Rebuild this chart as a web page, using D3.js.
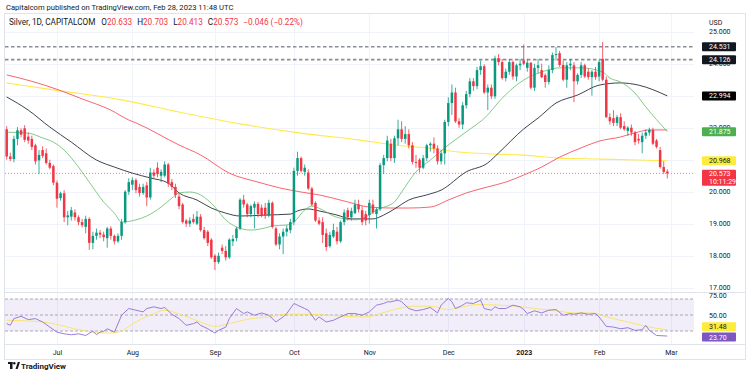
<!DOCTYPE html>
<html>
<head>
<meta charset="utf-8">
<script src="https://cdn.jsdelivr.net/npm/d3@7"></script>
<style>
  body { margin: 0; background: #fff; }
  svg text { font-family: Roboto, "Liberation Sans", sans-serif; }
</style>
</head>
<body>
<svg id="chart" width="750" height="376"></svg>
<script>
// daily candles: date, open, high, low, close
const candles = [
  ["2022-06-13",21.95,22.05,21.00,21.10],["2022-06-14",21.10,21.22,20.95,21.02],["2022-06-15",21.02,21.75,20.92,21.65],
  ["2022-06-16",21.65,22.02,21.45,21.92],["2022-06-17",21.92,21.98,21.70,21.78],["2022-06-20",21.98,22.08,21.55,21.62],
  ["2022-06-21",21.72,21.85,21.50,21.60],["2022-06-22",21.65,21.75,21.30,21.40],["2022-06-23",21.45,21.50,20.85,20.95],
  ["2022-06-24",20.98,21.30,20.55,21.15],["2022-06-27",21.30,21.42,21.05,21.12],["2022-06-28",21.20,21.35,20.85,20.90],
  ["2022-06-29",20.90,21.00,20.70,20.75],["2022-06-30",20.80,20.85,20.20,20.28],["2022-07-01",20.28,20.35,19.50,19.78],
  ["2022-07-04",19.80,20.00,19.72,19.95],["2022-07-05",19.95,20.05,19.05,19.20],["2022-07-06",19.20,19.40,18.95,19.26],
  ["2022-07-07",19.22,19.52,19.10,19.42],["2022-07-08",19.35,19.45,19.10,19.20],["2022-07-11",19.20,19.26,18.95,19.05],
  ["2022-07-12",19.05,19.15,18.88,18.95],["2022-07-13",18.90,19.25,18.70,19.15],["2022-07-14",19.15,19.20,18.18,18.40],
  ["2022-07-15",18.40,18.75,18.20,18.62],["2022-07-18",18.62,18.85,18.50,18.72],["2022-07-19",18.72,18.80,18.55,18.66],
  ["2022-07-20",18.66,18.75,18.45,18.58],["2022-07-21",18.55,18.90,18.25,18.85],["2022-07-22",18.85,18.92,18.50,18.62],
  ["2022-07-25",18.62,18.66,18.35,18.45],["2022-07-26",18.45,18.70,18.40,18.62],["2022-07-27",18.62,19.15,18.50,19.05],
  ["2022-07-28",19.05,20.05,19.00,20.00],["2022-07-29",20.00,20.42,19.90,20.30],["2022-08-01",20.22,20.45,20.05,20.36],
  ["2022-08-02",20.36,20.42,19.95,20.05],["2022-08-03",20.15,20.25,19.85,19.96],["2022-08-04",19.96,20.25,19.90,20.15],
  ["2022-08-05",20.20,20.30,19.55,19.82],["2022-08-08",19.82,20.75,19.75,20.60],["2022-08-09",20.60,20.70,20.40,20.50],
  ["2022-08-10",20.75,20.92,20.45,20.55],["2022-08-11",20.50,20.70,20.30,20.62],["2022-08-12",20.50,20.95,20.45,20.85],
  ["2022-08-15",20.85,20.90,20.15,20.25],["2022-08-16",20.30,20.40,20.05,20.15],["2022-08-17",20.15,20.25,19.80,19.90],
  ["2022-08-18",19.85,19.95,19.45,19.55],["2022-08-19",19.60,19.65,19.00,19.05],["2022-08-22",19.10,19.15,18.90,19.00],
  ["2022-08-23",19.00,19.20,18.90,19.10],["2022-08-24",19.15,19.30,19.00,19.05],["2022-08-25",19.00,19.40,18.95,19.22],
  ["2022-08-26",19.22,19.30,18.75,18.80],["2022-08-29",18.80,18.90,18.50,18.55],["2022-08-30",18.75,18.80,18.30,18.40],
  ["2022-08-31",18.50,18.55,17.90,17.95],["2022-09-01",18.00,18.05,17.55,17.80],["2022-09-02",17.80,18.10,17.75,18.00],
  ["2022-09-05",18.25,18.35,18.05,18.15],["2022-09-06",18.15,18.30,17.85,17.95],["2022-09-07",17.95,18.55,17.90,18.50],
  ["2022-09-08",18.45,18.65,18.30,18.52],["2022-09-09",18.55,18.90,18.45,18.85],["2022-09-12",18.85,19.80,18.80,19.75],
  ["2022-09-13",19.75,19.90,19.50,19.60],["2022-09-14",19.60,19.65,19.20,19.30],["2022-09-15",19.30,19.60,19.20,19.55],
  ["2022-09-16",19.50,19.70,18.85,19.62],["2022-09-19",19.62,19.68,19.20,19.30],["2022-09-20",19.50,19.60,19.20,19.25],
  ["2022-09-21",19.50,19.65,19.15,19.25],["2022-09-22",19.25,19.75,19.20,19.65],["2022-09-23",19.65,19.70,18.85,18.90],
  ["2022-09-26",18.85,18.90,18.30,18.35],["2022-09-27",18.35,18.70,18.20,18.60],["2022-09-28",18.60,18.85,18.05,18.75],
  ["2022-09-29",18.75,18.95,18.60,18.85],["2022-09-30",18.80,19.15,18.70,19.05],["2022-10-03",19.05,20.75,18.95,20.65],
  ["2022-10-04",20.65,21.25,20.50,21.05],["2022-10-05",21.05,21.10,20.60,20.65],["2022-10-06",20.62,20.85,20.50,20.75],
  ["2022-10-07",20.60,20.70,20.05,20.10],["2022-10-10",20.10,20.15,19.55,19.60],["2022-10-11",19.65,19.70,19.05,19.10],
  ["2022-10-12",19.10,19.20,18.95,19.00],["2022-10-13",19.05,19.20,18.40,18.65],["2022-10-14",18.70,18.85,18.15,18.27],
  ["2022-10-17",18.30,18.75,18.25,18.65],["2022-10-18",18.60,19.00,18.55,18.80],["2022-10-19",18.75,18.90,18.35,18.45],
  ["2022-10-20",18.45,19.10,18.40,19.05],["2022-10-21",19.05,19.45,18.95,19.35],["2022-10-24",19.42,19.50,19.10,19.20],
  ["2022-10-25",19.20,19.50,19.10,19.40],["2022-10-26",19.33,19.75,19.30,19.60],["2022-10-27",19.60,19.75,19.35,19.45],
  ["2022-10-28",19.42,19.55,18.95,19.05],["2022-10-31",19.30,19.40,18.95,19.10],["2022-11-01",19.27,19.75,19.00,19.65],
  ["2022-11-02",19.60,19.75,19.30,19.35],["2022-11-03",19.30,19.50,18.85,19.45],["2022-11-04",19.45,20.90,19.40,20.83],
  ["2022-11-07",20.83,21.15,20.55,21.05],["2022-11-08",21.05,21.75,20.95,21.60],["2022-11-09",21.50,21.65,20.95,21.05],
  ["2022-11-10",21.05,21.75,20.90,21.67],["2022-11-11",21.67,22.25,21.45,21.95],["2022-11-14",21.95,22.20,21.55,21.65],
  ["2022-11-15",21.65,22.05,21.50,21.80],["2022-11-16",21.80,21.95,21.35,21.45],["2022-11-17",21.45,21.55,20.85,20.93],
  ["2022-11-18",20.93,21.15,20.75,20.90],["2022-11-21",21.00,21.05,20.60,20.75],["2022-11-22",20.75,21.15,20.70,21.05],
  ["2022-11-23",21.05,21.50,20.95,21.45],["2022-11-24",21.45,21.55,21.25,21.50],["2022-11-25",21.50,21.70,21.20,21.35],
  ["2022-11-28",21.35,21.45,20.85,20.95],["2022-11-29",20.95,21.30,20.85,21.20],["2022-11-30",21.20,22.25,20.85,22.18],
  ["2022-12-01",22.18,22.95,22.05,22.77],["2022-12-02",22.77,23.35,22.40,23.10],["2022-12-05",23.10,23.25,22.15,22.20],
  ["2022-12-06",22.20,22.30,22.00,22.10],["2022-12-07",22.10,22.80,21.95,22.70],["2022-12-08",22.70,23.15,22.60,23.05],
  ["2022-12-09",23.05,23.55,22.95,23.45],["2022-12-12",23.45,23.55,23.15,23.30],["2022-12-13",23.30,23.90,23.20,23.80],
  ["2022-12-14",23.80,24.10,23.65,23.92],["2022-12-15",23.92,23.98,23.05,23.10],["2022-12-16",23.10,23.35,22.55,23.25],
  ["2022-12-19",23.25,23.35,22.90,22.98],["2022-12-20",22.98,24.25,22.90,24.17],["2022-12-21",24.17,24.30,23.95,24.05],
  ["2022-12-22",24.05,24.15,23.50,23.55],["2022-12-23",23.55,23.85,23.45,23.75],["2022-12-27",23.75,24.15,23.65,24.05],
  ["2022-12-28",24.05,24.10,23.50,23.60],["2022-12-29",23.60,24.00,23.45,23.95],["2022-12-30",23.95,24.15,23.80,24.00],
  ["2023-01-03",24.10,24.60,23.95,24.00],["2023-01-04",23.87,24.15,23.75,24.03],["2023-01-05",24.03,24.05,23.20,23.25],
  ["2023-01-06",23.25,24.00,23.15,23.87],["2023-01-09",23.87,24.15,23.70,23.95],["2023-01-10",23.80,24.00,23.55,23.58],
  ["2023-01-11",23.64,23.70,23.25,23.43],["2023-01-12",23.43,23.95,23.35,23.80],["2023-01-13",23.80,24.35,23.70,24.27],
  ["2023-01-16",24.27,24.52,24.10,24.30],["2023-01-17",24.33,24.40,23.90,23.96],["2023-01-18",23.96,24.10,23.45,23.50],
  ["2023-01-19",23.50,24.05,23.25,23.95],["2023-01-20",23.95,24.15,23.80,24.00],["2023-01-23",23.95,24.05,22.80,23.45],
  ["2023-01-24",23.45,23.70,23.35,23.65],["2023-01-25",23.65,24.05,23.55,23.95],["2023-01-26",23.95,24.00,23.55,23.60],
  ["2023-01-27",23.75,23.85,23.50,23.58],["2023-01-30",23.58,23.80,23.00,23.75],["2023-01-31",23.75,23.90,23.50,23.58],
  ["2023-02-01",23.60,24.12,23.45,24.05],["2023-02-02",24.15,24.68,23.45,23.50],["2023-02-03",23.50,23.60,22.30,22.33],
  ["2023-02-06",22.33,22.45,22.10,22.20],["2023-02-07",22.30,22.55,22.05,22.15],["2023-02-08",22.15,22.40,22.05,22.33],
  ["2023-02-09",22.33,22.45,21.95,22.00],["2023-02-10",22.05,22.20,21.90,21.95],["2023-02-13",21.90,22.05,21.75,22.00],
  ["2023-02-14",22.00,22.10,21.75,21.85],["2023-02-15",21.85,21.90,21.45,21.55],["2023-02-16",21.65,21.80,21.50,21.60],
  ["2023-02-17",21.55,21.85,21.20,21.75],["2023-02-20",21.75,21.95,21.65,21.85],["2023-02-21",21.85,22.00,21.75,21.93],
  ["2023-02-22",21.93,22.00,21.45,21.50],["2023-02-23",21.60,21.65,21.35,21.40],["2023-02-24",21.30,21.40,20.72,20.77],
  ["2023-02-27",20.77,20.95,20.55,20.619],["2023-02-28",20.633,20.703,20.413,20.573]
];

// moving averages: [bar index, price]
const ma20 = [[0,21.86],[6,21.83],[10,21.68],[13,21.55],[16,21.30],[20,20.77],[23,20.30],[27,19.68],[30,19.33],
  [32,19.05],[36,19.12],[39,19.24],[43,19.52],[46,19.80],[48,19.96],[51,19.99],[54,19.90],[58,19.52],[61,19.12],
  [64,18.90],[68,18.80],[72,18.87],[74,18.93],[78,18.96],[80,19.05],[83,19.43],[85,19.55],[88,19.43],[91,19.24],
  [94,19.15],[97,19.12],[100,19.21],[103,19.43],[108,19.68],[110,19.99],[114,20.62],[118,20.99],[123,21.46],
  [128,21.87],[134,22.40],[137,22.80],[141,23.24],[144,23.49],[149,23.74],[154,23.87],[160,23.87],[166,23.74],
  [168,23.55],[171,23.43],[175,23.08],[178,22.65],[184,21.875]];
const ma50 = [[0,22.96],[6,22.55],[12,22.02],[18,21.55],[25,20.99],[30,20.77],[35,20.58],[40,20.43],[45,20.27],
  [48,19.96],[53,19.74],[57,19.49],[61,19.33],[65,19.24],[72,19.27],[79,19.30],[81,19.40],[84,19.46],[87,19.40],
  [92,19.27],[96,19.15],[102,19.15],[105,19.27],[108,19.46],[112,19.74],[117,19.90],[121,20.05],[128,20.62],
  [134,20.90],[137,21.21],[144,21.96],[148,22.30],[153,22.77],[159,23.02],[165,23.33],[171,23.40],[176,23.33],[184,22.994]];
const ma100 = [[0,23.65],[7,23.45],[14,23.20],[21,22.90],[29,22.55],[34,22.24],[36,22.15],[48,21.46],[54,21.15],
  [62,20.58],[70,20.30],[76,20.12],[82,19.99],[87,19.90],[95,19.68],[101,19.52],[107,19.49],[112,19.49],[118,19.52],
  [123,19.74],[128,19.96],[134,20.15],[139,20.30],[144,20.52],[149,20.77],[154,21.08],[160,21.37],[165,21.58],
  [171,21.71],[176,21.87],[179,21.93],[184,21.93]];
const ma200 = [[0,23.40],[15,23.15],[32,22.87],[48,22.49],[65,22.12],[82,21.83],[98,21.62],[108,21.46],[117,21.37],
  [126,21.24],[135,21.18],[143,21.15],[154,21.05],[165,21.02],[176,20.99],[184,20.968]];

const rsi = [[0,39.2],[1,37.1],[2,45.5],[4,48.4],[6,44.2],[8,45.5],[10,41.3],[12,34.9],[14,28.6],[16,26.5],
  [18,25.3],[20,26.5],[22,24.4],[24,29.9],[25,25.3],[26,28.6],[27,29.5],[28,32.8],[30,28.6],[32,49.7],[34,58.1],
  [36,56.0],[38,53.9],[39,58.1],[41,60.2],[43,58.1],[44,59.4],[46,50.9],[48,45.5],[50,37.1],[52,39.2],[53,41.3],
  [54,37.1],[56,32.8],[58,27.4],[59,30.8],[61,34.9],[62,45.5],[64,58.1],[66,51.8],[67,53.9],[69,49.7],[71,52.6],
  [73,49.7],[75,41.3],[77,47.6],[78,51.8],[80,64.4],[81,62.3],[83,58.1],[84,56.0],[86,43.4],[87,47.6],[89,41.3],
  [91,43.4],[93,47.6],[95,51.8],[97,51.8],[99,49.7],[101,53.9],[103,62.3],[105,64.4],[106,66.5],[107,66.5],
  [109,68.6],[110,66.5],[112,58.1],[114,55.2],[116,56.8],[118,59.4],[120,52.6],[121,62.3],[123,70.7],[124,66.5],
  [125,58.1],[127,62.3],[128,65.3],[130,64.4],[132,68.6],[133,58.1],[135,56.0],[136,60.2],[137,58.1],[139,58.1],
  [141,62.3],[143,60.2],[144,56.8],[145,51.8],[147,55.2],[148,53.9],[149,52.6],[151,56.0],[153,56.8],[155,49.7],
  [157,51.8],[158,50.9],[160,52.6],[162,50.9],[164,51.8],[165,47.6],[167,35.8],[169,34.9],[171,32.8],[173,34.1],
  [175,30.8],[177,31.6],[178,37.1],[179,30.8],[181,24.4],[184,23.70]];
const rsiMa = [[0,43.4],[6,42.5],[12,40.0],[17,34.9],[22,29.9],[28,27.4],[31,28.6],[36,41.3],[41,51.8],[44,56.0],
  [49,49.7],[54,41.3],[58,35.8],[62,39.2],[68,45.5],[73,47.6],[78,51.0],[84,51.0],[89,49.7],[94,48.4],[100,47.6],
  [104,51.8],[108,56.8],[113,61.0],[118,61.0],[123,56.8],[127,60.2],[131,63.2],[137,62.3],[142,61.0],[147,58.1],
  [153,55.2],[158,52.6],[163,52.6],[167,47.6],[173,41.3],[178,35.8],[184,31.48]];

const priceTicks = [17, 18, 19, 20, 21, 22, 23, 24, 25];
const rsiTicks = [75, 50];
const rsiBands = [70, 50, 30];
const monthKeys = ["2022-07","2022-08","2022-09","2022-10","2022-11","2022-12","2023-01","2023-02","2023-03"];
const monthLabels = ["Jul","Aug","Sep","Oct","Nov","Dec","2023","Feb","Mar"];
const levels = [24.531, 24.126];
const lastClose = 20.573;

const UP = "#089981", DOWN = "#f23645";
const svg = d3.select("#chart");
const paneL = 5, paneR = 694, mainT = 14, mainB = 292, rsiB = 344;

const x = d3.scaleLinear().domain([0, candles.length]).range([6.7, 670.9]);
const y = d3.scaleLinear().domain([17, 25]).range([287.7, 31.7]);
const ry = d3.scaleLinear().domain([30, 70]).range([331, 299]);

// month tick positions = first bar of each month
const monthIdx = monthKeys.map(k => {
  const i = candles.findIndex(c => c[0].startsWith(k));
  return i < 0 ? candles.length : i;
});

svg.append("rect").attr("width", 750).attr("height", 376).attr("fill", "#fff");

// clip paths
const defs = svg.append("defs");
defs.append("clipPath").attr("id", "clipMain").append("rect")
  .attr("x", paneL).attr("y", mainT).attr("width", paneR - paneL).attr("height", mainB - mainT);
defs.append("clipPath").attr("id", "clipRsi").append("rect")
  .attr("x", paneL).attr("y", mainB).attr("width", paneR - paneL).attr("height", rsiB - mainB);

// grid
const grid = svg.append("g");
grid.selectAll("line.v").data(monthIdx).join("line")
  .attr("x1", d => Math.round(x(d)) + 0.5).attr("x2", d => Math.round(x(d)) + 0.5)
  .attr("y1", mainT).attr("y2", rsiB).attr("stroke", "#f0f3fa");
grid.selectAll("line.h").data(priceTicks).join("line")
  .attr("x1", paneL).attr("x2", paneR)
  .attr("y1", d => Math.round(y(d)) + 0.5).attr("y2", d => Math.round(y(d)) + 0.5).attr("stroke", "#f0f3fa");

// frame and pane separators
svg.append("rect").attr("x", 4.5).attr("y", 13.5).attr("width", 741).attr("height", 346)
  .attr("fill", "none").attr("stroke", "#e0e3eb");
svg.append("line").attr("x1", 5).attr("x2", 745).attr("y1", mainB + 0.5).attr("y2", mainB + 0.5).attr("stroke", "#e0e3eb");
svg.append("line").attr("x1", 5).attr("x2", 745).attr("y1", rsiB + 0.5).attr("y2", rsiB + 0.5).attr("stroke", "#e0e3eb");

// main pane content
const main = svg.append("g").attr("clip-path", "url(#clipMain)");

const maLine = d3.line().x(d => x(d[0])).y(d => y(d[1])).curve(d3.curveMonotoneX);
[[ma200, "#ffe94d", 1.1], [ma100, "#f7525f", 0.9], [ma50, "#2a2e39", 0.9], [ma20, "#66bb6a", 0.8]].forEach(([data, col, w]) => {
  main.append("path").datum(data).attr("d", maLine).attr("fill", "none").attr("stroke", col).attr("stroke-width", w);
});

// horizontal levels
main.selectAll("line.lvl").data(levels).join("line")
  .attr("x1", paneL).attr("x2", paneR + 8).attr("y1", d => y(d)).attr("y2", d => y(d))
  .attr("stroke", "#8a8d96").attr("stroke-width", 1.6).attr("stroke-dasharray", "3.5,2.5");

// last price line
main.append("line").attr("x1", paneL).attr("x2", paneR)
  .attr("y1", y(lastClose)).attr("y2", y(lastClose))
  .attr("stroke", DOWN).attr("stroke-width", 0.8).attr("stroke-dasharray", "1,2").attr("opacity", 0.8);

// candles
const cg = main.selectAll("g.candle").data(candles).join("g");
cg.append("line")
  .attr("x1", (d, i) => x(i)).attr("x2", (d, i) => x(i))
  .attr("y1", d => y(d[2])).attr("y2", d => y(d[3]))
  .attr("stroke", d => d[4] >= d[1] ? UP : DOWN).attr("stroke-width", 0.8);
cg.append("rect")
  .attr("x", (d, i) => x(i) - 1.25).attr("width", 2.5)
  .attr("y", d => y(Math.max(d[1], d[4])))
  .attr("height", d => Math.max(0.7, Math.abs(y(d[1]) - y(d[4]))))
  .attr("fill", d => d[4] >= d[1] ? UP : DOWN);

// RSI pane
const rp = svg.append("g").attr("clip-path", "url(#clipRsi)");
rp.append("rect").attr("x", paneL).attr("width", paneR - paneL)
  .attr("y", ry(70)).attr("height", ry(30) - ry(70)).attr("fill", "rgba(126,87,194,0.1)");
rp.selectAll("line.band").data(rsiBands).join("line")
  .attr("x1", paneL).attr("x2", paneR).attr("y1", d => ry(d)).attr("y2", d => ry(d))
  .attr("stroke", "#9598a1").attr("stroke-width", 0.8).attr("stroke-dasharray", "3,2");
rp.append("path").datum(rsiMa).attr("d", d3.line().x(d => x(d[0])).y(d => ry(d[1])).curve(d3.curveMonotoneX))
  .attr("fill", "none").attr("stroke", "#fbe35a").attr("stroke-width", 0.9);
rp.append("path").datum(rsi).attr("d", d3.line().x(d => x(d[0])).y(d => ry(d[1])))
  .attr("fill", "none").attr("stroke", "#8f6fd1").attr("stroke-width", 0.9);

// price axis
const fs = 7;
const pAxis = svg.append("g").attr("transform", "translate(705,0)")
  .call(d3.axisRight(y).tickValues(priceTicks).tickFormat(d3.format(".3f")).tickSize(0));
pAxis.select(".domain").remove();
pAxis.selectAll("text").attr("x", 4).attr("fill", "#131722").style("font-size", fs + "px");

const rAxis = svg.append("g").attr("transform", "translate(705,0)")
  .call(d3.axisRight(ry).tickValues(rsiTicks).tickFormat(d3.format(".2f")).tickSize(0));
rAxis.select(".domain").remove();
rAxis.selectAll("text").attr("x", 4).attr("fill", "#131722").style("font-size", fs + "px");

svg.append("text").attr("x", 709).attr("y", 25).attr("fill", "#131722").style("font-size", fs + "px").text("USD");

// time axis
const tAxis = svg.append("g").attr("transform", `translate(0,${rsiB + 3})`)
  .call(d3.axisBottom(x).tickValues(monthIdx).tickFormat((d, i) => monthLabels[i]).tickSize(0));
tAxis.select(".domain").remove();
tAxis.selectAll("text").attr("fill", "#131722").style("font-size", fs + "px")
  .style("font-weight", (d, i) => monthLabels[i] === "2023" ? "bold" : "normal");

// axis value tags
const fmt3 = d3.format(".3f"), fmt2 = d3.format(".2f");
const tags = [
  { v: levels[0], s: y, bg: "#131722", fg: "#fff", t: fmt3(levels[0]) },
  { v: levels[1], s: y, bg: "#131722", fg: "#fff", t: fmt3(levels[1]) },
  { v: ma50[ma50.length - 1][1], s: y, bg: "#000", fg: "#fff", t: fmt3(ma50[ma50.length - 1][1]) },
  { v: ma20[ma20.length - 1][1], s: y, bg: "#4caf50", fg: "#fff", t: fmt3(ma20[ma20.length - 1][1]) },
  { v: ma200[ma200.length - 1][1], s: y, bg: "#ffeb3b", fg: "#131722", t: fmt3(ma200[ma200.length - 1][1]) },
  { v: rsiMa[rsiMa.length - 1][1], s: ry, bg: "#ffeb3b", fg: "#131722", t: fmt2(rsiMa[rsiMa.length - 1][1]), dy: -3 },
  { v: rsi[rsi.length - 1][1], s: ry, bg: "#7e57c2", fg: "#fff", t: fmt2(rsi[rsi.length - 1][1]), dy: 1 }
];
const tg = svg.selectAll("g.tag").data(tags).join("g")
  .attr("transform", d => `translate(702,${d.s(d.v) + (d.dy || 0)})`);
tg.append("rect").attr("x", 0).attr("y", -4.5).attr("width", 34).attr("height", 9).attr("rx", 1).attr("fill", d => d.bg);
tg.append("text").attr("x", 7).attr("y", 2.5).attr("fill", d => d.fg).style("font-size", fs + "px").text(d => d.t);

// last price tag with countdown
const lp = svg.append("g").attr("transform", `translate(702,${y(lastClose)})`);
lp.append("rect").attr("x", 0).attr("y", -3.5).attr("width", 34).attr("height", 16).attr("rx", 1).attr("fill", DOWN);
lp.append("text").attr("x", 7).attr("y", 3).attr("fill", "#fff").style("font-size", fs + "px").text(fmt3(lastClose));
lp.append("text").attr("x", 7).attr("y", 10.5).attr("fill", "#fff").style("font-size", fs + "px").text("10:11:29");

// header and legend
svg.append("text").attr("x", 6).attr("y", 10).attr("fill", "#131722").style("font-size", "7.6px")
  .text("Capitalcom published on TradingView.com, Feb 28, 2023 11:48 UTC");
const last = candles[candles.length - 1];
const prev = candles[candles.length - 2];
const chg = last[4] - prev[4];
const leg = svg.append("text").attr("x", 9).attr("y", 25).style("font-size", "8.2px").attr("fill", "#131722");
leg.append("tspan").text("Silver, 1D, CAPITALCOM");
[["O", last[1]], ["H", last[2]], ["L", last[3]], ["C", last[4]]].forEach(([k, v], i) => {
  leg.append("tspan").attr("dx", i === 0 ? 6 : 5).attr("fill", "#131722").text(k);
  leg.append("tspan").attr("fill", DOWN).text(fmt3(v));
});
leg.append("tspan").attr("dx", 5).attr("fill", DOWN)
  .text(fmt3(chg).replace("-", "\u2212") + " (" + d3.format(".2%")(chg / prev[4]).replace("-", "\u2212") + ")");

// TradingView mark
const logo = svg.append("g").attr("transform", "translate(8,362)");
logo.append("rect").attr("x", 0).attr("y", 0).attr("width", 4.5).attr("height", 2).attr("fill", "#131722");
logo.append("rect").attr("x", 2).attr("y", 0).attr("width", 2.5).attr("height", 7).attr("fill", "#131722");
logo.append("circle").attr("cx", 6.3).attr("cy", 1.3).attr("r", 1.2).attr("fill", "#131722");
logo.append("path").attr("d", "M7.5,7 L9.8,0 L12,0 L9.7,7 Z").attr("fill", "#131722");
svg.append("text").attr("x", 21).attr("y", 369).attr("fill", "#131722")
  .style("font-size", "8px").style("font-weight", "bold").text("TradingView");
</script>
</body>
</html>
